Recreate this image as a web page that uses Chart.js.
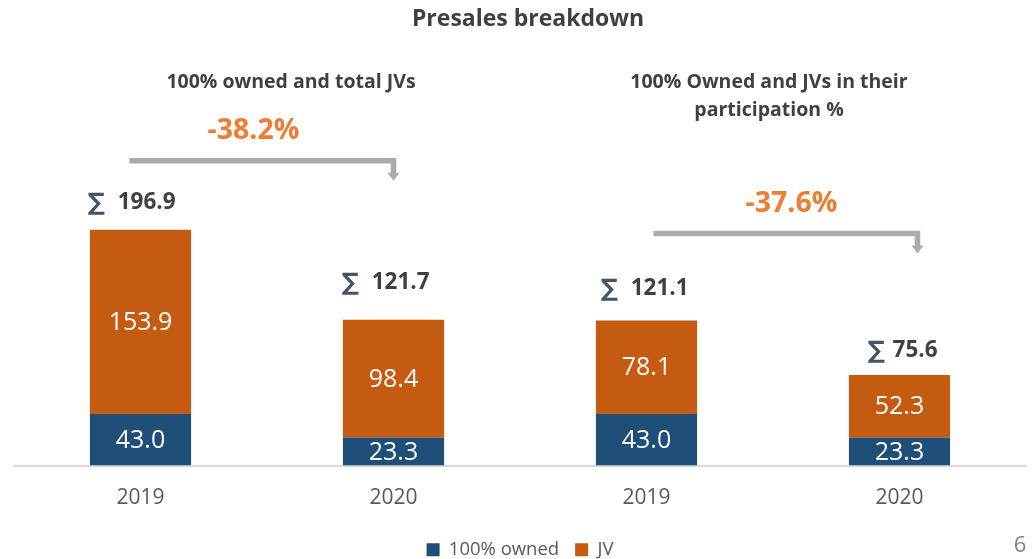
<!DOCTYPE html>
<html>
<head>
<meta charset="utf-8">
<script src="https://cdn.jsdelivr.net/npm/chart.js@4.4.1/dist/chart.umd.min.js"></script>
<style>
  html, body { margin: 0; padding: 0; background: #ffffff; }
  #wrap { width: 1036px; height: 559px; }
</style>
</head>
<body>
<div id="wrap"><canvas id="presalesChart" width="1036" height="559"></canvas></div>
<script>
const categories = ["2019", "2020", "2019", "2020"];
const ownedValues = [43.0, 23.3, 43.0, 23.3];
const jvValues = [153.9, 98.4, 78.1, 52.3];
const totalValues = [196.9, 121.7, 121.1, 75.6];
const changeLabels = ["-38.2%", "-37.6%"];
const groupTitles = [
  ["100% owned and total JVs"],
  ["100% Owned and JVs in their", "participation %"],
];
const chartTitle = "Presales breakdown";
const pageNumber = "6";

const BLUE = "#1f4e79";
const ORANGE = "#c55a11";
const FONT = "'Open Sans', sans-serif";

// small per-bar tweaks to follow the slide layout
const totalDx = [-9, -8, -2, 3];
const totalDy = [27, 37, 32, 24];
const totalGap = [13, 13, 13, 8];

const slideDecor = {
  id: "slideDecor",
  afterDatasetsDraw(chart) {
    const { ctx } = chart;
    const owned = chart.getDatasetMeta(0).data;
    const jv = chart.getDatasetMeta(1).data;

    ctx.save();
    ctx.textAlign = "center";
    ctx.textBaseline = "middle";

    // values inside the bars
    ctx.fillStyle = "#ffffff";
    ctx.font = "25px " + FONT;
    owned.forEach((bar, i) => {
      ctx.fillText(ownedValues[i].toFixed(1), bar.x, (bar.y + bar.base) / 2 + 1);
    });
    jv.forEach((bar, i) => {
      ctx.fillText(jvValues[i].toFixed(1), bar.x, (bar.y + bar.base) / 2 + 1);
    });

    // totals above the bars
    jv.forEach((bar, i) => {
      const num = totalValues[i].toFixed(1);
      ctx.font = "bold 22.5px " + FONT;
      const numW = ctx.measureText(num).width;
      ctx.font = "bold 24px 'DejaVu Sans', sans-serif";
      const sigW = ctx.measureText("∑").width;
      const full = sigW + totalGap[i] + numW;
      const left = bar.x + totalDx[i] - full / 2;
      const y = bar.y - totalDy[i];
      ctx.textAlign = "left";
      ctx.fillStyle = "#44546a";
      ctx.fillText("∑", left, y + 1);
      ctx.font = "bold 22.5px " + FONT;
      ctx.fillStyle = "#404040";
      ctx.fillText(num, left + sigW + totalGap[i], y);
      ctx.textAlign = "center";
    });

    // brackets with arrows and % change
    const brackets = [
      { from: 0, to: 1, x0: -11, x1: 0, rise: 69 },
      { from: 2, to: 3, x0: 7, x1: 18, rise: 87 },
    ];
    brackets.forEach((b, k) => {
      const xs = jv[b.from].x + b.x0;
      const xe = jv[b.to].x + b.x1;
      const y = jv[b.from].y - b.rise;
      ctx.strokeStyle = "#aeaaaa";
      ctx.lineWidth = 5.5;
      ctx.lineCap = "butt";
      ctx.beginPath();
      ctx.moveTo(xs, y);
      ctx.lineTo(xe, y);
      ctx.lineTo(xe, y + 13);
      ctx.stroke();
      ctx.fillStyle = "#aeaaaa";
      ctx.beginPath();
      ctx.moveTo(xe - 6, y + 12);
      ctx.lineTo(xe + 6, y + 12);
      ctx.lineTo(xe, y + 20);
      ctx.closePath();
      ctx.fill();

      ctx.fillStyle = "#ed7d31";
      ctx.font = "bold 28.5px " + FONT;
      ctx.fillText(changeLabels[k], (xs + xe) / 2 + (k === 0 ? -8 : 6), y - 30);
    });

    // group headings
    ctx.fillStyle = "#404040";
    ctx.font = "bold 19.5px " + FONT;
    const headX = [(jv[0].x + jv[1].x) / 2 + 24, (jv[2].x + jv[3].x) / 2 - 4];
    groupTitles.forEach((lines, k) => {
      lines.forEach((line, j) => {
        ctx.fillText(line, headX[k], 82 + j * 28);
      });
    });

    // slide title
    ctx.font = "bold 23px " + FONT;
    ctx.fillText(chartTitle, chart.width / 2 + 10, 19);

    // page number
    ctx.fillStyle = "#808080";
    ctx.font = "22px " + FONT;
    ctx.fillText(pageNumber, 1020, 546);

    ctx.restore();
  },
};

new Chart(document.getElementById("presalesChart"), {
  type: "bar",
  data: {
    labels: categories,
    datasets: [
      {
        label: "100% owned",
        data: ownedValues,
        backgroundColor: BLUE,
        categoryPercentage: 1,
        barPercentage: 0.4,
      },
      {
        label: "JV",
        data: jvValues,
        backgroundColor: ORANGE,
        categoryPercentage: 1,
        barPercentage: 0.4,
      },
    ],
  },
  options: {
    responsive: false,
    animation: false,
    layout: {
      padding: { top: 226, left: 14, right: 10, bottom: -10 },
    },
    plugins: {
      legend: {
        position: "bottom",
        labels: {
          color: "#595959",
          boxWidth: 13,
          boxHeight: 13,
          padding: 16,
          font: { family: FONT, size: 18.5 },
        },
      },
      tooltip: { enabled: false },
    },
    scales: {
      x: {
        stacked: true,
        grid: { display: false },
        border: { color: "#d9d9d9", width: 2 },
        ticks: {
          color: "#595959",
          padding: 12,
          font: { family: FONT, size: 21 },
        },
        afterFit(axis) {
          axis.height = 59;
        },
      },
      y: {
        stacked: true,
        display: false,
        min: 0,
        max: 200,
      },
    },
  },
  plugins: [slideDecor],
});
</script>
</body>
</html>
